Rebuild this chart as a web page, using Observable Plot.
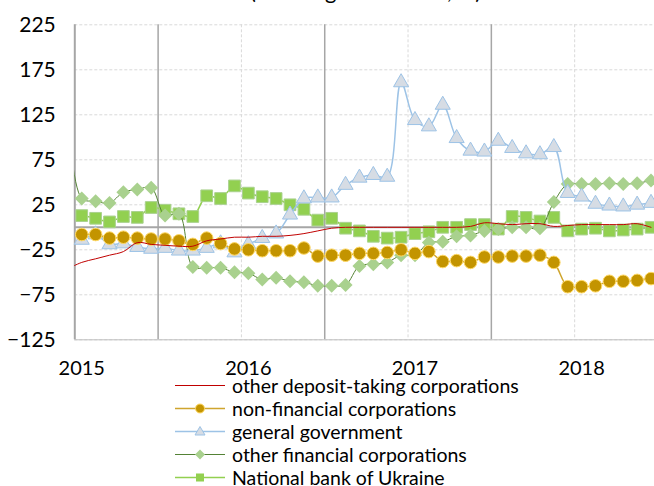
<!DOCTYPE html>
<html>
<head>
<meta charset="utf-8">
<script src="https://cdn.jsdelivr.net/npm/d3@7"></script>
<script src="https://cdn.jsdelivr.net/npm/@observablehq/plot@0.6"></script>
<style>
  html, body { margin: 0; padding: 0; background: #fff; overflow: hidden; }
  #wrap { position: relative; width: 654px; height: 486px; font-family: Lato, "Open Sans", sans-serif; }
  #title { position: absolute; left: 250px; top: -20px; font-size: 22px; line-height: 22px; white-space: nowrap; color: #000; }
  #legend { position: absolute; left: 175px; top: 374px; }
  .row { display: flex; align-items: center; height: 22.9px; }
  .row span { font-size: 19.5px; color: #000; white-space: nowrap; line-height: 19px; }
  .row svg { flex: none; }
</style>
</head>
<body>
<div id="wrap">
  <div id="title"></div>
  <div id="chart"></div>
  <div id="legend"></div>
</div>
<script>
// ---- data (monthly, index 0 = Dec 2014, last = Jun 2018) ----
const titleText = "(annual growth rates, %)";
const seriesNames = [
  "other deposit-taking corporations",
  "non-financial corporations",
  "general government",
  "other financial corporations",
  "National bank of Ukraine"
];
const yearLabels = ["2015", "2016", "2017", "2018"];
const yearTicks = [0, 12, 24, 36];          // month offsets from Jan 2015
const yTicks = [225, 175, 125, 75, 25, -25, -75, -125];

const otherDeposit = [-46,
  -39, -35, -31, -27, -17, -19, -20, -21, -21, -15, -13, -11,
  -11, -10, -10, -9, -7, -4, -1, 0, 0, 0, 0, 0,
  0, 0, 0, 0, 1, 5, 4, 3, 4, 4, 1, 2,
  3, 3, 3, 3, 4, 0];
const nonFinancial = [null,
  -8, -8, -12, -11, -12, -13, -13, -15, -19, -12, -18, -24,
  -25, -26, -26, -26, -23, -32, -31, -31, -29, -29, -28, -25,
  -29, -27, -38, -37, -39, -33, -33, -32, -32, -31, -39, -66,
  -66, -65, -60, -60, -59, -57];
const generalGov = [null,
  -14, -8, -19, -18, -22, -24, -23, -26, -26, -23, -18, -28,
  -19, -12, -7, 14, 32, 33, 33, 47, 55, 58, 56, 161,
  119, 112, 136, 99, 85, 84, 96, 88, 82, 81, 89, 38,
  34, 26, 24, 23, 25, 27];
const otherFinancial = [125,
  32, 29, 27, 39, 42, 44, 13, 15, -44, -45, -45, -50,
  -51, -58, -56, -60, -61, -65, -65, -64, -43, -41, -39, -31,
  -31, -17, -16, -10, -9, -4, -2, 0, 0, -1, 28, 48,
  48, 48, 49, 48, 49, 52];
const nbu = [null,
  13, 10, 6, 12, 11, 22, 19, 15, 12, 35, 32, 46,
  38, 34, 32, 25, 20, 8, 10, -1, -4, -10, -12, -11,
  -7, -5, 0, 0, 3, 3, -2, 12, 11, 7, 11, -4,
  -2, -1, -4, -3, -2, 0];

// ---- styles ----
const styles = [
  {line: "#C00000", width: 1, symbol: null},
  {line: "#CFA52E", width: 1.5, symbol: "circle", fill: "#C39400", stroke: "#FFD966", r: 6.3},
  {line: "#9DC3E6", width: 1.5, symbol: "triangle", fill: "#D6DCE4", stroke: "#9DC3E6", r: 5.6},
  {line: "#548235", width: 1, symbol: "diamond2", fill: "#A9D18E", stroke: "none", r: 6.3},
  {line: "#92D050", width: 1.5, symbol: "square", fill: "#92D050", stroke: "#A9D18E", r: 6.6}
];
const allSeries = [otherDeposit, nonFinancial, generalGov, otherFinancial, nbu];

const rows = [];
allSeries.forEach((vals, si) => {
  vals.forEach((v, i) => rows.push({series: seriesNames[si], si, m: i - 1, v}));
});

document.getElementById("title").textContent = titleText;

const marks = [
  Plot.ruleY(yTicks, {stroke: "#D9D9D9", strokeDasharray: "3,2", strokeWidth: 1}),
  Plot.ruleX([11.5, 23.5, 35.5], {stroke: "#D9D9D9", strokeDasharray: "3,2", strokeWidth: 1}),
  Plot.ruleX([5.5, 17.5, 29.5], {stroke: "#A6A6A6", strokeWidth: 1.5}),
  Plot.ruleY([-125], {stroke: "#BFBFBF", strokeWidth: 1}),
  Plot.ruleY([0], {stroke: "#A6A6A6", strokeWidth: 2}),
  Plot.ruleX([-0.5], {stroke: "#A6A6A6", strokeWidth: 2}),
  Plot.axisY({ticks: yTicks, tickSize: 0, tickPadding: 19, fontSize: 21, label: null}),
  Plot.axisX({ticks: yearTicks, tickSize: 0, tickPadding: 21, fontSize: 20, label: null,
    tickFormat: (d) => yearLabels[yearTicks.indexOf(d)]})
];

const drawOrder = [4, 3, 2, 1, 0];
drawOrder.forEach(si => {
  const st = styles[si];
  const data = rows.filter(d => d.si === si);
  marks.push(Plot.line(data, {x: "m", y: "v", stroke: st.line, strokeWidth: st.width,
    curve: "catmull-rom", clip: true}));
  if (st.symbol) {
    marks.push(Plot.dot(data.filter(d => d.v != null && d.m >= 0), {x: "m", y: "v", symbol: st.symbol,
      r: st.r, fill: st.fill, stroke: st.stroke, strokeWidth: 1}));
  }
});

const chart = Plot.plot({
  width: 654,
  height: 400,
  marginLeft: 74.3,
  marginRight: 0,
  marginTop: 24.3,
  marginBottom: 60.7,
  style: {fontFamily: "Lato, 'Open Sans', sans-serif", color: "#000", background: "transparent", overflow: "visible"},
  x: {type: "linear", domain: [-0.5, 41.25], axis: null},
  y: {type: "linear", domain: [-125, 225], axis: null},
  marks
});
document.getElementById("chart").appendChild(chart);

// ---- legend ----
const legend = document.getElementById("legend");
const symPaths = {
  circle: (c) => `<circle cx="25" cy="11.5" r="4.5" fill="${c.fill}" stroke="${c.stroke}"/>`,
  triangle: (c) => `<path d="M25,6.5 L30,15 L20,15 Z" fill="${c.fill}" stroke="${c.stroke}"/>`,
  diamond2: (c) => `<path d="M25,6.5 L30,11.5 L25,16.5 L20,11.5 Z" fill="${c.fill}"/>`,
  square: (c) => `<rect x="21" y="7.5" width="8" height="8" fill="${c.fill}"/>`
};
seriesNames.forEach((name, si) => {
  const st = styles[si];
  const row = document.createElement("div");
  row.className = "row";
  row.innerHTML = `<svg width="57" height="23" viewBox="0 0 57 23">
    <line x1="0" x2="50" y1="11.5" y2="11.5" stroke="${st.line}" stroke-width="${st.width}"/>
    ${st.symbol ? symPaths[st.symbol](st) : ""}</svg><span>${name}</span>`;
  legend.appendChild(row);
});
</script>
</body>
</html>
